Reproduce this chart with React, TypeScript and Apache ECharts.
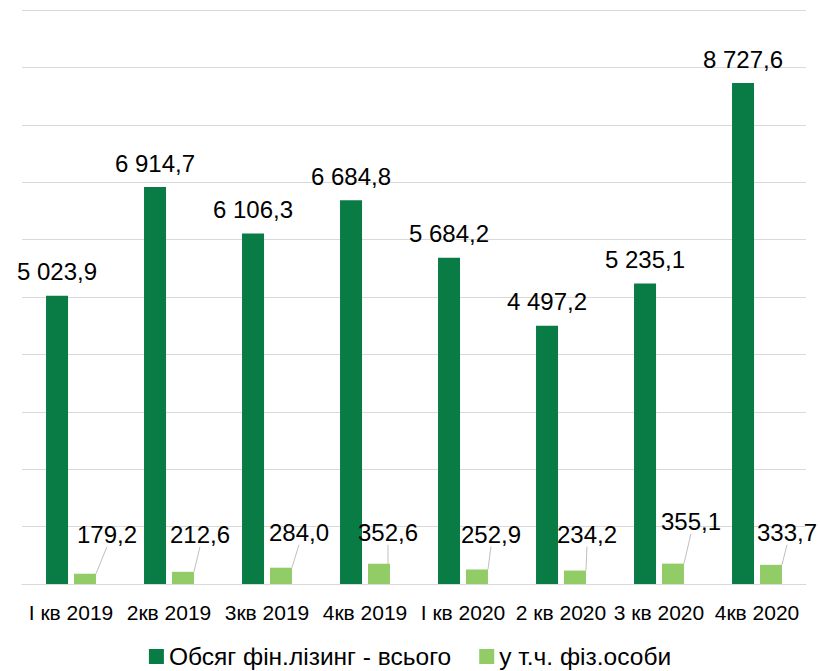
import React, { useEffect, useRef } from "react";
import * as echarts from "echarts";

const categories = [
  "І кв 2019",
  "2кв 2019",
  "3кв 2019",
  "4кв 2019",
  "І кв 2020",
  "2 кв 2020",
  "3 кв 2020",
  "4кв 2020",
];
const totalValues = [5023.9, 6914.7, 6106.3, 6684.8, 5684.2, 4497.2, 5235.1, 8727.6];
const individualValues = [179.2, 212.6, 284.0, 352.6, 252.9, 234.2, 355.1, 333.7];
const seriesNames = ["Обсяг фін.лізинг - всього", "у т.ч. фіз.особи"];

// label offsets (dx from bar centre, dy from bar top to label centre) for the small bars
const smallLabelOffsets = [
  [22, -39],
  [17, -37],
  [18, -35],
  [9, -31],
  [14, -35],
  [12, -36],
  [18, -42],
  [16, -32],
];

const FONT = "'Liberation Sans', Arial, sans-serif";

function fmt(v: number): string {
  const [i, d] = v.toFixed(1).split(".");
  return i.replace(/\B(?=(\d{3})+(?!\d))/g, " ") + "," + d;
}

export default function App() {
  const ref = useRef<HTMLDivElement>(null);
  useEffect(() => {
    if (!ref.current) return;
    const chart = echarts.init(ref.current, undefined, { renderer: "svg" });
    chart.setOption({
      animation: false,
      backgroundColor: "#ffffff",
      textStyle: { fontFamily: FONT },
      grid: { left: 22, right: 14, top: 10, bottom: 87 },
      legend: {
        top: 644,
        left: "center",
        padding: 0,
        itemWidth: 15,
        itemHeight: 15,
        itemGap: 28,
        icon: "rect",
        textStyle: {
          fontSize: 24.5,
          lineHeight: 22,
          color: "#000",
          fontFamily: FONT,
        },
        data: seriesNames,
      },
      xAxis: {
        type: "category",
        data: categories,
        axisTick: { show: false },
        axisLine: { lineStyle: { color: "#d9d9d9", width: 1 } },
        axisLabel: {
          color: "#000",
          fontSize: 21,
          margin: 18,
          interval: 0,
          fontFamily: FONT,
        },
      },
      yAxis: {
        type: "value",
        min: 0,
        max: 10000,
        interval: 1000,
        axisLabel: { show: false },
        axisLine: { show: false },
        axisTick: { show: false },
        splitLine: { lineStyle: { color: "#d9d9d9", width: 1 } },
      },
      series: [
        {
          name: seriesNames[0],
          type: "bar",
          data: totalValues,
          barWidth: 22,
          barGap: "27%",
          itemStyle: { color: "#097B45" },
          label: {
            show: true,
            position: "top",
            distance: 12,
            color: "#000",
            fontSize: 24,
            fontFamily: FONT,
            formatter: (p: any) => fmt(p.value),
          },
        },
        {
          name: seriesNames[1],
          type: "bar",
          data: individualValues,
          barWidth: 22,
          itemStyle: { color: "#92CC66" },
          label: {
            show: true,
            position: "top",
            color: "#000",
            fontSize: 24,
            fontFamily: FONT,
            formatter: (p: any) => fmt(p.value),
          },
          labelLine: { show: true, lineStyle: { color: "#bfbfbf", width: 1 } },
          labelLayout: (params: any) => {
            const r = params.rect;
            const o = smallLabelOffsets[params.dataIndex];
            return {
              x: r.x + r.width / 2 + o[0],
              y: r.y + o[1],
              align: "center",
              verticalAlign: "middle",
            };
          },
        },
      ],
    });
    return () => chart.dispose();
  }, []);
  return (
    <div
      ref={ref}
      style={{ position: "absolute", left: 0, top: 0, width: 820, height: 671 }}
    />
  );
}
